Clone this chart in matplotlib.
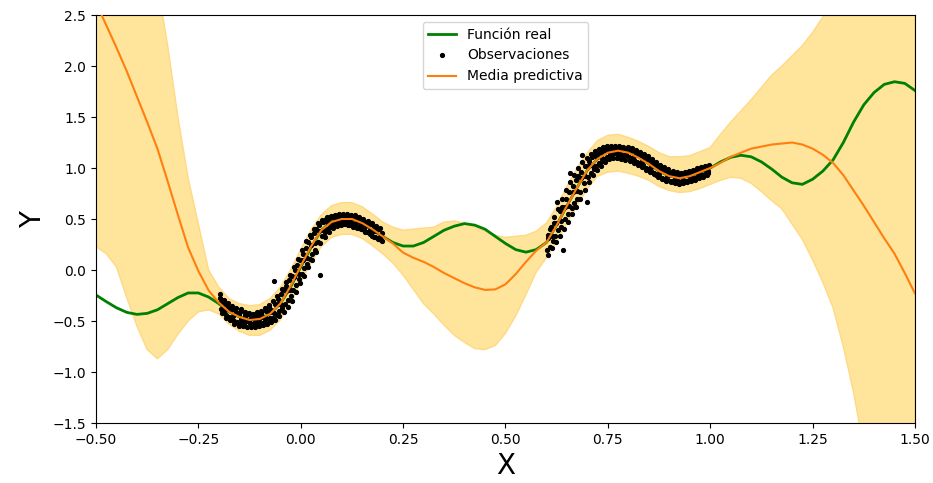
import matplotlib
matplotlib.use("Agg")
import matplotlib.pyplot as plt
import numpy as np

# ---- true function ----
x_true = [-0.5, -0.475, -0.45, -0.425, -0.4, -0.375, -0.35, -0.325, -0.3, -0.275, -0.25, -0.225,
          -0.2, -0.175, -0.15, -0.125, -0.1, -0.075, -0.05, -0.025, 0.0, 0.025, 0.05, 0.075, 0.1,
          0.125, 0.15, 0.175, 0.2, 0.225, 0.25, 0.275, 0.3, 0.325, 0.35, 0.375, 0.4, 0.425, 0.45,
          0.475, 0.5, 0.525, 0.55, 0.575, 0.6, 0.625, 0.65, 0.675, 0.7, 0.725, 0.75, 0.775, 0.8,
          0.825, 0.85, 0.875, 0.9, 0.925, 0.95, 0.975, 1.0, 1.025, 1.05, 1.075, 1.1, 1.125, 1.15,
          1.175, 1.2, 1.225, 1.25, 1.275, 1.3, 1.325, 1.35, 1.375, 1.4, 1.425, 1.45, 1.475, 1.5]
y_true = [-0.245, -0.31, -0.37, -0.415, -0.435, -0.425, -0.39, -0.33, -0.27, -0.225, -0.225, -0.265,
          -0.33, -0.41, -0.46, -0.485, -0.48, -0.43, -0.33, -0.17, 0.03, 0.22, 0.39, 0.475, 0.51,
          0.5, 0.45, 0.39, 0.33, 0.27, 0.235, 0.235, 0.27, 0.33, 0.39, 0.43, 0.455, 0.44, 0.4,
          0.33, 0.26, 0.2, 0.175, 0.2, 0.27, 0.44, 0.63, 0.81, 0.98, 1.09, 1.16, 1.18, 1.16,
          1.11, 1.04, 0.97, 0.92, 0.9, 0.92, 0.955, 1.0, 1.06, 1.105, 1.125, 1.11, 1.06, 0.99,
          0.91, 0.855, 0.84, 0.89, 0.97, 1.08, 1.25, 1.45, 1.62, 1.74, 1.82, 1.846, 1.83, 1.76]

# ---- observations ----
obs_x1 = [-0.198, -0.195, -0.192, -0.188, -0.185, -0.182, -0.178, -0.175, -0.172, -0.168, -0.165, -0.162,
          -0.158, -0.155, -0.152, -0.148, -0.145, -0.142, -0.138, -0.135, -0.132, -0.128, -0.125, -0.122,
          -0.118, -0.115, -0.112, -0.108, -0.105, -0.102, -0.098, -0.095, -0.092, -0.088, -0.085, -0.082,
          -0.078, -0.075, -0.072, -0.068, -0.065, -0.062, -0.058, -0.055, -0.052, -0.048, -0.045, -0.042,
          -0.038, -0.035, -0.032, -0.028, -0.025, -0.022, -0.018, -0.015, -0.012, -0.008, -0.005, -0.002,
          0.002, 0.005, 0.008, 0.012, 0.015, 0.018, 0.022, 0.025, 0.028, 0.032, 0.035, 0.038,
          0.042, 0.045, 0.048, 0.052, 0.055, 0.058, 0.062, 0.065, 0.068, 0.072, 0.075, 0.078,
          0.082, 0.085, 0.088, 0.092, 0.095, 0.098, 0.102, 0.105, 0.108, 0.112, 0.115, 0.118,
          0.122, 0.125, 0.128, 0.132, 0.135, 0.138, 0.142, 0.145, 0.148, 0.152, 0.155, 0.158,
          0.162, 0.165, 0.168, 0.172, 0.175, 0.178, 0.182, 0.185, 0.188, 0.192, 0.195, 0.198]
obs_y1 = [-0.27, -0.38, -0.30, -0.41, -0.33, -0.44, -0.36, -0.46, -0.39, -0.47, -0.38, -0.50,
          -0.41, -0.51, -0.43, -0.52, -0.40, -0.49, -0.53, -0.44, -0.50, -0.43, -0.52, -0.47,
          -0.53, -0.45, -0.51, -0.44, -0.53, -0.48, -0.42, -0.52, -0.46, -0.50, -0.40, -0.49,
          -0.36, -0.47, -0.39, -0.47, -0.11, -0.33, -0.44, -0.28, -0.40, -0.24, -0.37, -0.20,
          -0.33, -0.16, -0.29, -0.10, -0.25, -0.06, -0.20, 0.00, -0.15, 0.05, -0.09, 0.10,
          -0.04, 0.16, 0.02, 0.22, 0.06, 0.27, 0.11, 0.32, 0.16, 0.36, 0.20, 0.40,
          0.27, 0.44, -0.05, 0.33, 0.47, 0.37, 0.50, 0.40, 0.51, 0.42, 0.52, 0.45,
          0.53, 0.46, 0.52, 0.47, 0.53, 0.49, 0.45, 0.53, 0.48, 0.53, 0.44, 0.52,
          0.47, 0.53, 0.45, 0.52, 0.43, 0.51, 0.41, 0.50, 0.44, 0.49, 0.39, 0.47,
          0.37, 0.46, 0.39, 0.45, 0.33, 0.42, 0.32, 0.40, 0.31, 0.40, 0.29, 0.36]
obs_x1b = [-0.197, -0.192, -0.187, -0.182, -0.177, -0.172, -0.167, -0.162, -0.157, -0.152,
           -0.147, -0.142, -0.137, -0.132, -0.127, -0.122, -0.117, -0.112, -0.107, -0.102,
           -0.097, -0.092, -0.087, -0.082, -0.077, -0.072, -0.067, -0.062, -0.057, -0.052,
           -0.047, -0.042, -0.037, -0.032, -0.027, -0.022, -0.017, -0.012, -0.007, -0.002,
           0.003, 0.008, 0.013, 0.018, 0.023, 0.028, 0.033, 0.038, 0.043, 0.048,
           0.053, 0.058, 0.063, 0.068, 0.073, 0.078, 0.083, 0.088, 0.093, 0.098,
           0.103, 0.108, 0.113, 0.118, 0.123, 0.128, 0.133, 0.138, 0.143, 0.148,
           0.153, 0.158, 0.163, 0.168, 0.173, 0.178, 0.183, 0.188, 0.193, 0.198]
obs_y1b = [-0.24, -0.42, -0.29, -0.47, -0.32, -0.49, -0.35, -0.53, -0.37, -0.55,
           -0.38, -0.55, -0.41, -0.56, -0.42, -0.56, -0.43, -0.56, -0.41, -0.55,
           -0.40, -0.54, -0.37, -0.53, -0.34, -0.51, -0.30, -0.49, -0.25, -0.45,
           -0.19, -0.41, -0.12, -0.36, -0.05, -0.30, 0.03, -0.22, 0.11, -0.13,
           0.20, -0.06, 0.28, 0.03, 0.34, 0.10, 0.40, 0.18, 0.46, 0.26,
           0.49, 0.32, 0.52, 0.37, 0.53, 0.41, 0.54, 0.43, 0.55, 0.44,
           0.55, 0.45, 0.55, 0.44, 0.54, 0.42, 0.54, 0.41, 0.52, 0.40,
           0.50, 0.37, 0.48, 0.35, 0.46, 0.32, 0.43, 0.30, 0.41, 0.28]
obs_x1c = [-0.1955, -0.1855, -0.1755, -0.1655, -0.1555, -0.1455, -0.1355, -0.1255, -0.1155, -0.1055,
           -0.0955, -0.0855, -0.0755, -0.0655, -0.0555, -0.0455, -0.0355, -0.0255, -0.0155, -0.0055,
           0.0045, 0.0145, 0.0245, 0.0345, 0.0445, 0.0545, 0.0645, 0.0745, 0.0845, 0.0945,
           0.1045, 0.1145, 0.1245, 0.1345, 0.1445, 0.1545, 0.1645, 0.1745, 0.1845, 0.1945]
obs_y1c = [-0.31, -0.39, -0.38, -0.45, -0.43, -0.48, -0.46, -0.50, -0.47, -0.50,
           -0.45, -0.47, -0.41, -0.42, -0.33, -0.34, -0.21, -0.20, -0.07, -0.04,
           0.10, 0.12, 0.25, 0.26, 0.38, 0.39, 0.47, 0.46, 0.51, 0.48,
           0.52, 0.49, 0.51, 0.46, 0.48, 0.42, 0.44, 0.37, 0.38, 0.32]
obs_x2 = [0.602, 0.605, 0.608, 0.612, 0.615, 0.618, 0.622, 0.625, 0.628, 0.632, 0.635, 0.638,
          0.641, 0.645, 0.648, 0.652, 0.655, 0.658, 0.662, 0.665, 0.668, 0.672, 0.675, 0.678,
          0.682, 0.685, 0.688, 0.692, 0.695, 0.698, 0.702, 0.705, 0.708, 0.712, 0.715, 0.718,
          0.722, 0.725, 0.728, 0.732, 0.735, 0.738, 0.742, 0.745, 0.748, 0.752, 0.755, 0.758,
          0.762, 0.765, 0.768, 0.772, 0.775, 0.778, 0.782, 0.785, 0.788, 0.792, 0.795, 0.798,
          0.802, 0.805, 0.808, 0.812, 0.815, 0.818, 0.822, 0.825, 0.828, 0.832, 0.835, 0.838,
          0.842, 0.845, 0.848, 0.852, 0.855, 0.858, 0.862, 0.865, 0.868, 0.872, 0.875, 0.878,
          0.882, 0.885, 0.888, 0.892, 0.895, 0.898, 0.902, 0.905, 0.908, 0.912, 0.915, 0.918,
          0.922, 0.925, 0.928, 0.932, 0.935, 0.938, 0.942, 0.945, 0.948, 0.952, 0.955, 0.958,
          0.962, 0.965, 0.968, 0.972, 0.975, 0.978, 0.982, 0.985, 0.988, 0.992, 0.995, 0.998]
obs_y2 = [0.20, 0.34, 0.23, 0.42, 0.28, 0.46, 0.33, 0.67, 0.39, 0.58, 0.42, 0.62,
          0.20, 0.50, 0.70, 0.55, 0.76, 0.95, 0.61, 0.82, 0.66, 0.88, 0.70, 0.92,
          0.76, 0.96, 1.13, 0.85, 1.02, 0.67, 0.91, 1.07, 0.95, 1.11, 0.99, 1.13,
          1.02, 1.15, 1.05, 1.16, 1.07, 1.18, 1.09, 1.19, 1.11, 1.20, 1.13, 1.19,
          1.14, 1.20, 1.15, 1.20, 1.13, 1.19, 1.14, 1.20, 1.12, 1.19, 1.13, 1.18,
          1.11, 1.17, 1.10, 1.18, 1.08, 1.15, 1.06, 1.14, 1.05, 1.13, 1.03, 1.11,
          1.00, 1.10, 0.99, 1.08, 0.97, 1.06, 0.95, 1.04, 0.93, 1.02, 0.92, 1.00,
          0.90, 0.99, 0.89, 0.97, 0.88, 0.96, 0.87, 0.95, 0.87, 0.94, 0.86, 0.93,
          0.87, 0.93, 0.86, 0.93, 0.87, 0.94, 0.87, 0.94, 0.88, 0.95, 0.89, 0.96,
          0.90, 0.97, 0.91, 0.98, 0.92, 0.99, 0.93, 1.00, 0.94, 1.01, 0.95, 1.02]
obs_x2b = [0.603, 0.608, 0.613, 0.618, 0.623, 0.628, 0.633, 0.638, 0.643, 0.648,
           0.653, 0.658, 0.663, 0.668, 0.673, 0.678, 0.683, 0.688, 0.693, 0.698,
           0.703, 0.708, 0.713, 0.718, 0.723, 0.728, 0.733, 0.738, 0.743, 0.748,
           0.753, 0.758, 0.763, 0.768, 0.773, 0.778, 0.783, 0.788, 0.793, 0.798,
           0.803, 0.808, 0.813, 0.818, 0.823, 0.828, 0.833, 0.838, 0.843, 0.848,
           0.853, 0.858, 0.863, 0.868, 0.873, 0.878, 0.883, 0.888, 0.893, 0.898,
           0.903, 0.908, 0.913, 0.918, 0.923, 0.928, 0.933, 0.938, 0.943, 0.948,
           0.953, 0.958, 0.963, 0.968, 0.973, 0.978, 0.983, 0.988, 0.993, 0.998]
obs_y2b = [0.15, 0.40, 0.22, 0.52, 0.27, 0.60, 0.33, 0.70, 0.40, 0.78,
           0.47, 0.86, 0.55, 0.93, 0.62, 1.00, 0.70, 1.06, 0.78, 1.10,
           0.86, 1.14, 0.93, 1.17, 0.98, 1.19, 1.02, 1.21, 1.06, 1.22,
           1.09, 1.22, 1.10, 1.22, 1.10, 1.22, 1.09, 1.21, 1.08, 1.21,
           1.07, 1.20, 1.05, 1.18, 1.03, 1.16, 1.01, 1.14, 0.98, 1.12,
           0.96, 1.09, 0.94, 1.06, 0.91, 1.03, 0.89, 1.01, 0.87, 0.99,
           0.86, 0.97, 0.85, 0.96, 0.84, 0.95, 0.85, 0.96, 0.86, 0.97,
           0.87, 0.98, 0.88, 1.00, 0.90, 1.01, 0.91, 1.02, 0.93, 1.03]
obs_x2c = [0.6045, 0.6145, 0.6245, 0.6345, 0.6445, 0.6545, 0.6645, 0.6745, 0.6845, 0.6945,
           0.7045, 0.7145, 0.7245, 0.7345, 0.7445, 0.7545, 0.7645, 0.7745, 0.7845, 0.7945,
           0.8045, 0.8145, 0.8245, 0.8345, 0.8445, 0.8545, 0.8645, 0.8745, 0.8845, 0.8945,
           0.9045, 0.9145, 0.9245, 0.9345, 0.9445, 0.9545, 0.9645, 0.9745, 0.9845, 0.9945]
obs_y2c = [0.31, 0.33, 0.46, 0.48, 0.62, 0.63, 0.76, 0.77, 0.90, 0.92,
           1.03, 1.02, 1.11, 1.10, 1.17, 1.15, 1.19, 1.16, 1.20, 1.15,
           1.18, 1.12, 1.14, 1.07, 1.09, 1.01, 1.02, 0.95, 0.97, 0.91,
           0.94, 0.89, 0.92, 0.88, 0.93, 0.90, 0.96, 0.94, 0.99, 0.97]

# ---- predictive mean and band ----
x_pred = x_true
y_mean = [2.62, 2.40, 2.18, 1.95, 1.70, 1.45, 1.19, 0.87, 0.54, 0.22, -0.01, -0.20,
          -0.32, -0.41, -0.46, -0.49, -0.48, -0.43, -0.33, -0.16, 0.04, 0.23, 0.39, 0.47, 0.50,
          0.50, 0.46, 0.40, 0.33, 0.26, 0.17, 0.12, 0.08, 0.03, -0.03, -0.08, -0.13, -0.17, -0.195,
          -0.19, -0.14, -0.04, 0.08, 0.19, 0.27, 0.44, 0.63, 0.81, 0.98, 1.09, 1.15, 1.17, 1.15,
          1.10, 1.04, 0.97, 0.92, 0.90, 0.92, 0.96, 1.00, 1.05, 1.11, 1.15, 1.19, 1.21, 1.23,
          1.24, 1.25, 1.23, 1.19, 1.13, 1.05, 0.93, 0.78, 0.63, 0.47, 0.31, 0.16, -0.03, -0.23]
y_upper = [3.9, 3.8, 3.7, 3.55, 3.35, 3.1, 2.8, 2.2, 1.5, 0.9, 0.45, 0.0,
           -0.17, -0.28, -0.33, -0.35, -0.34, -0.28, -0.17, 0.0, 0.2, 0.39, 0.54, 0.63, 0.66,
           0.66, 0.62, 0.55, 0.47, 0.42, 0.39, 0.40, 0.41, 0.42, 0.47, 0.48, 0.46, 0.42, 0.38,
           0.34, 0.32, 0.33, 0.34, 0.38, 0.46, 0.62, 0.82, 1.00, 1.15, 1.27, 1.32, 1.33, 1.30,
           1.26, 1.21, 1.15, 1.11, 1.11, 1.12, 1.16, 1.20, 1.33, 1.45, 1.56, 1.67, 1.79, 1.91,
           2.0, 2.1, 2.2, 2.33, 2.48, 2.62, 2.75, 2.9, 3.0, 3.1, 3.2, 3.3, 3.4, 3.5]
y_lower = [0.23, 0.16, 0.03, -0.27, -0.55, -0.78, -0.87, -0.78, -0.63, -0.50, -0.41, -0.39,
           -0.43, -0.53, -0.60, -0.64, -0.64, -0.59, -0.49, -0.32, -0.12, 0.07, 0.23, 0.32, 0.35,
           0.35, 0.31, 0.24, 0.16, 0.07, -0.05, -0.19, -0.33, -0.43, -0.54, -0.64, -0.71, -0.77, -0.78,
           -0.74, -0.62, -0.45, -0.24, -0.02, 0.12, 0.28, 0.46, 0.63, 0.80, 0.92, 0.96, 0.97, 0.95,
           0.92, 0.88, 0.82, 0.78, 0.76, 0.77, 0.80, 0.84, 0.88, 0.91, 0.90, 0.85, 0.77, 0.68,
           0.60, 0.45, 0.30, 0.10, -0.12, -0.37, -0.75, -1.2, -1.75, -2.1, -2.4, -2.7, -3.0, -3.3]

fig = plt.figure(figsize=(9.33, 4.83), dpi=100)
ax = fig.add_axes([0.1029, 0.1242, 0.8778, 0.8447])

ax.fill_between(x_pred, y_lower, y_upper, facecolor="#FFE49C", edgecolor="#FFD983",
                linewidth=1, zorder=1)
ax.plot(x_true, y_true, color="green", linewidth=2, label="Función real", zorder=2)
obs_x = obs_x1 + obs_x1b + obs_x1c + obs_x2 + obs_x2b + obs_x2c
obs_y = obs_y1 + obs_y1b + obs_y1c + obs_y2 + obs_y2b + obs_y2c
ax.plot(obs_x, obs_y, "k.", markersize=5.5, label="Observaciones", zorder=3)
ax.plot(x_pred, y_mean, color="#ff7f0e", linewidth=1.5, label="Media predictiva", zorder=4)

ax.set_xlim(-0.5, 1.5)
ax.set_ylim(-1.5, 2.5)
ax.set_xlabel("X", fontsize=20)
ax.set_ylabel("Y", fontsize=20)
ax.legend(loc="upper center")

fig.savefig("out.png", dpi=100)
